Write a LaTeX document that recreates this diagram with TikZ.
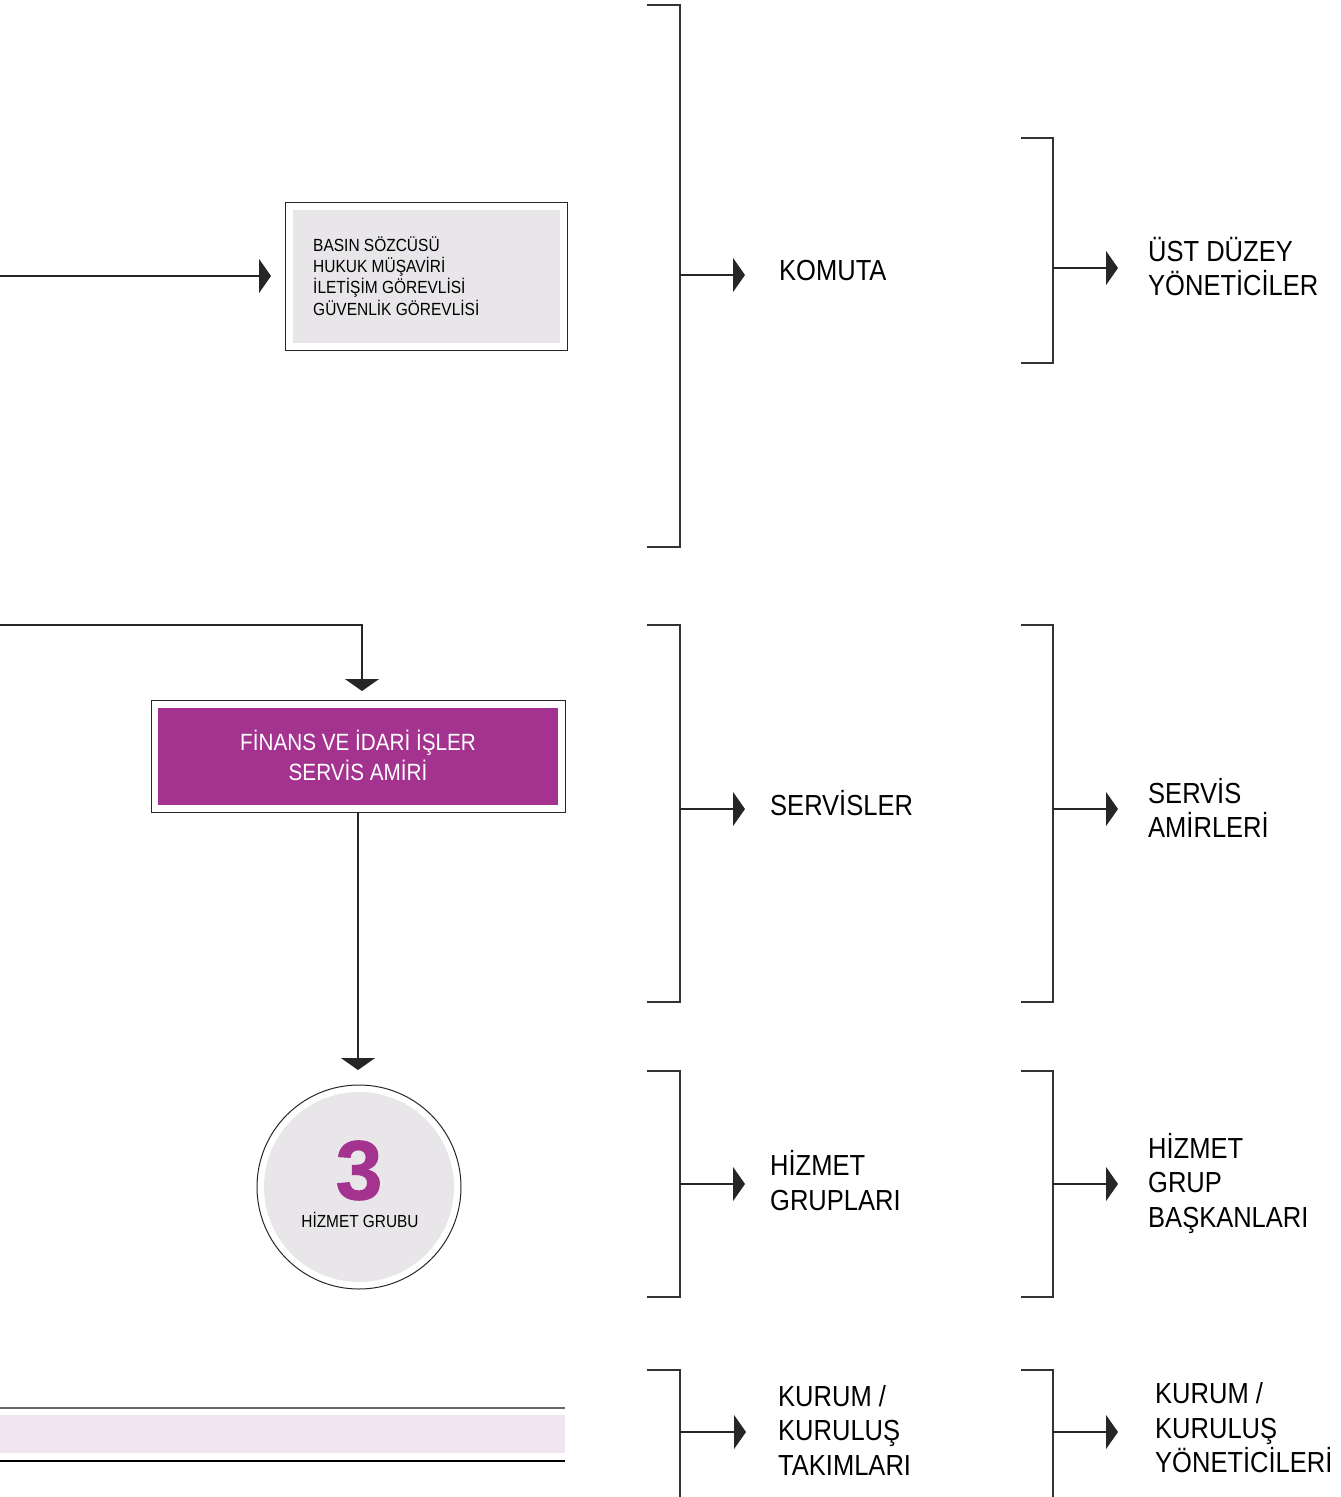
\documentclass[tikz,border=0pt]{standalone}
\usepackage{fontspec}
\setmainfont{Liberation Sans}[FakeStretch=0.88]
\newfontfamily\digitfont{Liberation Sans}[FakeBold=1.2]
\usetikzlibrary{arrows.meta}
\definecolor{purp}{HTML}{A3338F}
\definecolor{lgray}{HTML}{E8E6E9}
\definecolor{pinkband}{HTML}{F0E4F1}
\begin{document}
\begin{tikzpicture}[x=1pt,y=-1pt,
  conn/.style={line width=1.2pt, black!85},
  arr/.style={conn, -{Triangle[length=12pt,width=34pt]}},
  brk/.style={line width=1.3pt, black!80},
  frame/.style={line width=1pt, black!85},
  big/.style={anchor=west, align=left, inner sep=0pt, font=\fontsize{29}{34.5}\selectfont},
]
\useasboundingbox (0,0) rectangle (1341,1497);

% ---------- left column ----------
% gray box
\draw[frame] (285,202) rectangle (567,350);
\fill[lgray] (293,210) rectangle (560,343);
\node (gb) [anchor=west, align=left, inner sep=0pt, font=\fontsize{17.6}{21.3}\selectfont]
  at (313,276) {BASIN SÖZCÜSÜ\\HUKUK MÜŞAVİRİ\\İLETİŞİM GÖREVLİSİ\\GÜVENLİK GÖREVLİSİ};
\coordinate (gbin) at (285,276);
\coordinate (s1) at (0,276);
\draw[arr, shorten >=14pt] (s1) -- (gbin);

% purple box
\draw[frame] (151,700) rectangle (565,812);
\fill[purp] (158,708) rectangle (558,805);
\node (pb) [align=center, inner sep=0pt, text=white, font=\fontsize{23.5}{30}\selectfont]
  at (358,755) {FİNANS VE İDARİ İŞLER\\SERVİS AMİRİ};
\coordinate (pbtop) at (362,700);
\coordinate (pbbot) at (358,812);
\coordinate (s2) at (0,625);
\draw[arr, shorten >=9pt] (s2) -| (pbtop);

% circle
\draw[frame] (359,1187) circle[radius=102];
\fill[lgray] (359,1187) circle[radius=95];
\node (three) [inner sep=0pt, text depth=0pt, text=purp, font=\digitfont\bfseries\fontsize{84}{84}\selectfont]
  at (359,1170) {3};
\node (hg) [inner sep=0pt, font=\fontsize{17.5}{20}\selectfont] at (360,1220) {HİZMET GRUBU};
\coordinate (circtop) at (358,1085);
\draw[arr, shorten >=15pt] (pbbot) -- (circtop);

% bottom band
\draw[line width=1.5pt, black!60] (0,1408) -- (565,1408);
\fill[pinkband] (0,1415) rectangle (565,1453);
\draw[line width=1.3pt, black] (0,1461) -- (565,1461);

% ---------- brackets ----------
\draw[brk] (647,5) -- (680,5) -- (680,547) -- (647,547);
\draw[brk] (1021,138) -- (1053,138) -- (1053,363) -- (1021,363);
\draw[brk] (647,625) -- (680,625) -- (680,1002) -- (647,1002);
\draw[brk] (1021,625) -- (1053,625) -- (1053,1002) -- (1021,1002);
\draw[brk] (647,1071) -- (680,1071) -- (680,1297) -- (647,1297);
\draw[brk] (1021,1071) -- (1053,1071) -- (1053,1297) -- (1021,1297);
\draw[brk] (647,1370) -- (680,1370) -- (680,1497);
\draw[brk] (1021,1370) -- (1053,1370) -- (1053,1497);

% ---------- labels ----------
\node (komuta) [big] at (779,271) {KOMUTA};
\node (ust) [big] at (1148,266.5) {ÜST DÜZEY\\YÖNETİCİLER};
\node (serv) [big] at (770,803) {SERVİSLER};
\node (sam) [big] at (1148,808) {SERVİS\\AMİRLERİ};
\node (hgr) [big] at (770,1180.5) {HİZMET\\GRUPLARI};
\node (hgb) [big] at (1148,1183) {HİZMET\\GRUP\\BAŞKANLARI};
\node (kt) [big] at (778,1430) {KURUM /\\KURULUŞ\\TAKIMLARI};
\node (ky) [big] at (1155,1428) {KURUM /\\KURULUŞ\\YÖNETİCİLERİ};

% ---------- arrows from brackets ----------
\coordinate (a1) at (680,275);  \coordinate (a1t) at (745,275);
\coordinate (a2) at (1053,268); \coordinate (a2t) at (1118,268);
\coordinate (a3) at (680,809);  \coordinate (a3t) at (745,809);
\coordinate (a4) at (1053,809); \coordinate (a4t) at (1118,809);
\coordinate (a5) at (680,1184); \coordinate (a5t) at (745,1184);
\coordinate (a6) at (1053,1184);\coordinate (a6t) at (1118,1184);
\coordinate (a7) at (680,1432); \coordinate (a7t) at (746,1432);
\coordinate (a8) at (1053,1432);\coordinate (a8t) at (1118,1432);
\foreach \i in {1,...,8}{\draw[arr] (a\i) -- (a\i t);}
\end{tikzpicture}
\end{document}
